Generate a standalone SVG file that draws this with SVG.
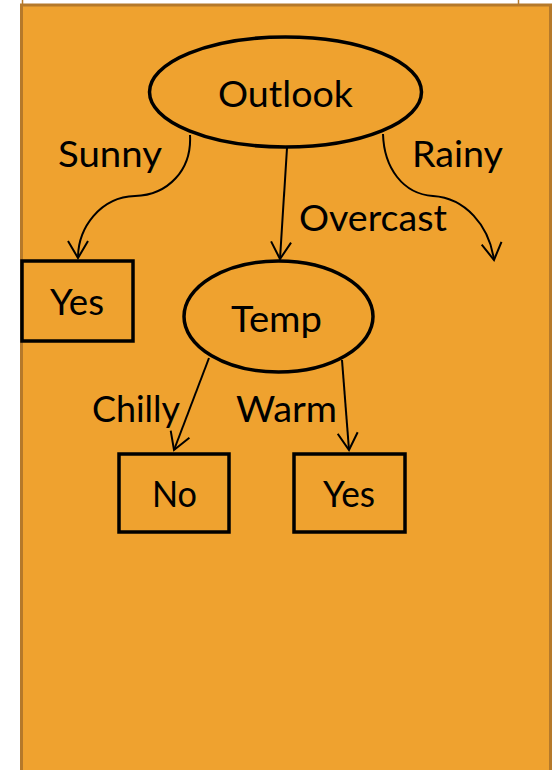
<svg xmlns="http://www.w3.org/2000/svg" width="555" height="770" viewBox="0 0 555 770">
  <style>
    .node { fill: none; stroke: #000; stroke-width: 3.5; }
    .lbl { font-family: Lato, "Open Sans", "Liberation Sans", sans-serif; font-size: 37px; fill: #000; text-anchor: middle; }
    .edge { fill: none; stroke: #000; stroke-width: 2; marker-end: url(#arrow); }
  </style>
  <defs>
    <marker id="arrow" markerUnits="userSpaceOnUse" viewBox="0 0 22 22" refX="20" refY="11" markerWidth="22" markerHeight="22" orient="auto">
      <path d="M3,1 L20,11 L3,21" fill="none" stroke="#000" stroke-width="2"/>
    </marker>
  </defs>
  <rect x="0" y="0" width="555" height="770" fill="#ffffff"/>
  <rect x="22.5" y="-20" width="496" height="26" fill="none" stroke="#b5792a" stroke-width="1.5"/>
  <rect x="21.5" y="5" width="529" height="800" fill="#efa22f" stroke="#b5792a" stroke-width="3"/>

  <g id="connectors">
    <path class="edge" d="M190,135 C192,170 168,195 135,196 C100,197 78,228 78,258"/>
    <path class="edge" d="M383,134 C384,168 403,194 433,196 C465,198 489,225 494,260"/>
    <path class="edge" d="M287,148 L280,259"/>
    <path class="edge" d="M209,358 L174,450"/>
    <path class="edge" d="M342,360 L349,450"/>
    <text class="lbl" x="110" y="167" textLength="104" lengthAdjust="spacingAndGlyphs">Sunny</text>
    <text class="lbl" x="457.5" y="167" textLength="91" lengthAdjust="spacingAndGlyphs">Rainy</text>
    <text class="lbl" x="373" y="231" textLength="148" lengthAdjust="spacingAndGlyphs">Overcast</text>
    <text class="lbl" x="136" y="422" textLength="88" lengthAdjust="spacingAndGlyphs">Chilly</text>
    <text class="lbl" x="286.5" y="422" textLength="101" lengthAdjust="spacingAndGlyphs">Warm</text>
  </g>

  <g id="outlook">
    <ellipse class="node" cx="285.5" cy="92" rx="136" ry="55"/>
    <text class="lbl" x="285.5" y="107" textLength="135" lengthAdjust="spacingAndGlyphs">Outlook</text>
  </g>
  <g id="yes-sunny">
    <rect class="node" x="22" y="261" width="111" height="80"/>
    <text class="lbl" x="77" y="315" textLength="54" lengthAdjust="spacingAndGlyphs">Yes</text>
  </g>
  <g id="temp">
    <ellipse class="node" cx="278.5" cy="316.5" rx="94.5" ry="55.5"/>
    <text class="lbl" x="276.5" y="332" textLength="91" lengthAdjust="spacingAndGlyphs">Temp</text>
  </g>
  <g id="no-chilly">
    <rect class="node" x="119" y="454" width="110" height="78"/>
    <text class="lbl" x="174.5" y="507" textLength="45" lengthAdjust="spacingAndGlyphs">No</text>
  </g>
  <g id="yes-warm">
    <rect class="node" x="294" y="454" width="111" height="78"/>
    <text class="lbl" x="349" y="507" textLength="52" lengthAdjust="spacingAndGlyphs">Yes</text>
  </g>
</svg>
